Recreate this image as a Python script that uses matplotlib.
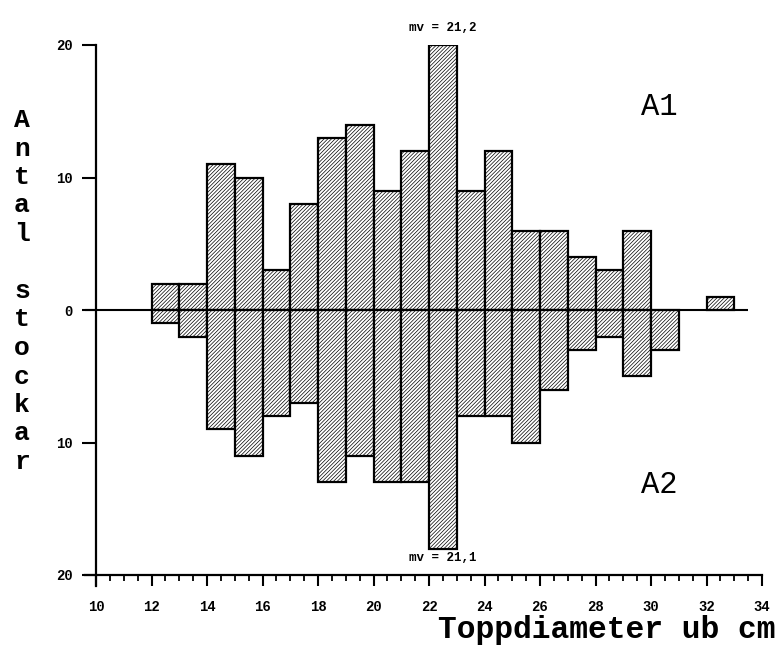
import matplotlib
matplotlib.use("Agg")
import matplotlib.pyplot as plt
import numpy as np

# data
bin_left = [12, 13, 14, 15, 16, 17, 18, 19, 20, 21, 22, 23, 24, 25, 26, 27, 28, 29, 30, 31, 32]
a1_counts = [2, 2, 11, 10, 3, 8, 13, 14, 9, 12, 20, 9, 12, 6, 6, 4, 3, 6, 0, 0, 1]
a2_counts = [1, 2, 9, 11, 8, 7, 13, 11, 13, 13, 18, 8, 8, 10, 6, 3, 2, 5, 3, 0, 0]
x_ticks = [10, 12, 14, 16, 18, 20, 22, 24, 26, 28, 30, 32, 34]
y_ticks = [-20, -10, 0, 10, 20]
y_tick_labels = ["20", "10", "0", "10", "20"]
mean_a1 = "mv = 21,2"
mean_a2 = "mv = 21,1"

plt.rcParams['hatch.linewidth'] = 0.5
plt.rcParams['hatch.color'] = '#666666'

fig = plt.figure(figsize=(7.77, 6.48), dpi=100)
ax = fig.add_axes([96/777, 73/648, (762-96)/777, (575-45)/648])

mono = 'Liberation Mono'

left = np.array(bin_left)
up = np.array(a1_counts)
down = -np.array(a2_counts)

hatch = '/' * 9
m1 = up > 0
m2 = down < 0
ax.bar(left[m1], up[m1], width=1.0, align='edge', facecolor='white',
       edgecolor='black', linewidth=1.6, hatch=hatch, zorder=2)
ax.bar(left[m2], down[m2], width=1.0, align='edge', facecolor='white',
       edgecolor='black', linewidth=1.6, hatch=hatch, zorder=2)

ax.hlines(0, 9.6, 33.5, color='black', linewidth=1.5, clip_on=False, zorder=3)

ax.set_xlim(10, 34)
ax.set_ylim(-20, 20)

for s in ['top', 'right']:
    ax.spines[s].set_visible(False)
ax.spines['left'].set_linewidth(1.6)
ax.spines['bottom'].set_linewidth(1.6)
ax.spines['left'].set_bounds(-20.8, 20)
ax.spines['bottom'].set_bounds(9.6, 34)

ax.set_xticks(x_ticks)
ax.set_xticklabels([str(t) for t in x_ticks], fontfamily=mono, fontsize=10, fontweight='bold')
ax.set_xticks(np.arange(10, 34.01, 0.5), minor=True)
ax.tick_params(axis='x', which='major', direction='out', length=8, width=1.5, pad=10)
ax.tick_params(axis='x', which='minor', direction='out', length=4, width=1.3)

ax.set_yticks(y_ticks)
ax.set_yticklabels(y_tick_labels, fontfamily=mono, fontsize=10, fontweight='bold')
ax.tick_params(axis='y', which='major', direction='out', length=10, width=1.5, pad=7)

ax.text(22.5, 20.8, mean_a1, ha='center', va='bottom', fontfamily=mono, fontsize=9, fontweight='bold')
ax.text(22.5, -18.3, mean_a2, ha='center', va='top', fontfamily=mono, fontsize=9, fontweight='bold')
ax.text(30.3, 15.3, "A1", ha='center', va='center', fontfamily=mono, fontsize=22)
ax.text(30.3, -13.2, "A2", ha='center', va='center', fontfamily=mono, fontsize=22)

# vertical y label, stacked letters
letters = list("Antal") + [""] + list("stockar")
y0 = 648 - 120
step = 28.5
for i, ch in enumerate(letters):
    fig.text(22/777, (y0 - i*step)/648, ch, ha='center', va='center',
             fontfamily=mono, fontsize=19, fontweight='bold')

fig.text(776/777, 10/648, "Toppdiameter ub cm", ha='right', va='baseline',
         fontfamily=mono, fontsize=22.5, fontweight='bold')

fig.savefig("out.png", dpi=100)
